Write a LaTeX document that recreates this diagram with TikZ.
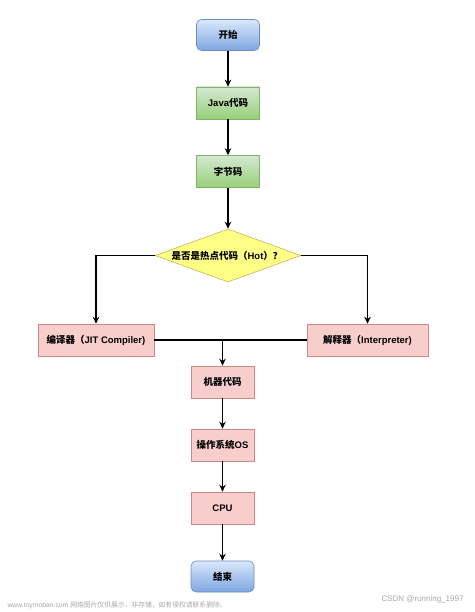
\documentclass[tikz,border=0pt]{standalone}
\usepackage{fontspec}
\setmainfont{Liberation Sans}
\newfontfamily\cjk{Noto Sans CJK SC Bold}
\newfontfamily\cjkreg{Noto Sans CJK SC}
\usetikzlibrary{shapes.geometric,arrows.meta}
\definecolor{bluetop}{HTML}{DAE8FC}
\definecolor{bluebot}{HTML}{7EA6E0}
\definecolor{blueline}{HTML}{6C8EBF}
\definecolor{greentop}{HTML}{D5E8D4}
\definecolor{greenbot}{HTML}{97D077}
\definecolor{greenline}{HTML}{82B366}
\definecolor{yellowfill}{HTML}{FFFF88}
\definecolor{yellowline}{HTML}{C8B45A}
\definecolor{pinkfill}{HTML}{F8CECC}
\definecolor{pinkline}{HTML}{B85450}
\definecolor{wm}{HTML}{A8A8A8}
\tikzset{
  every node/.style={font=\bfseries\fontsize{9.5}{11}\selectfont, text=black},
  term/.style={rectangle, rounded corners=5pt, draw=blueline, line width=0.6pt,
    top color=bluetop, bottom color=bluebot, minimum width=63pt, minimum height=31pt, inner sep=0pt},
  gbox/.style={rectangle, draw=greenline, line width=0.6pt,
    top color=greentop, bottom color=greenbot, minimum width=63pt, minimum height=32pt, inner sep=0pt},
  pbox/.style={rectangle, draw=pinkline!70, line width=0.6pt, fill=pinkfill,
    minimum height=32pt, inner sep=0pt},
  dec/.style={diamond, draw=yellowline, line width=0.6pt, fill=yellowfill,
    minimum width=146pt, minimum height=53pt, inner sep=0pt},
  conn/.style={line width=1.7pt, -{Stealth[length=7pt,width=6.5pt]}},
  plain/.style={line width=1.7pt},
  wmtext/.style={font=\fontsize{6.8}{7}\selectfont, text=wm},
}
\begin{document}
\begin{tikzpicture}[x=1pt,y=-1pt]
\useasboundingbox (0,0) rectangle (474,612);
\fill[white] (0,0) rectangle (474,612);
\node[term] (start) at (228,35) {\cjk 开始};
\node[gbox] (java) at (228,103) {Java\cjk 代码};
\node[gbox] (byte) at (228,171.5) {\cjk 字节码};
\node[dec] (hot) at (228,255.5) {};
\node (hottext) at (227,255.5) {{\cjk 是否是热点代码（}Hot{\cjk ）？}};
\node[pbox, minimum width=116pt] (comp) at (96,340) {{\cjk 编译器（}JIT Compiler)};
\node[pbox, minimum width=121pt] (interp) at (367.5,340) {{\cjk 解释器（}Interpreter)};
\node[pbox, minimum width=63pt] (mach) at (222.5,382) {\cjk 机器代码};
\node[pbox, minimum width=63pt] (os) at (222.5,445) {{\cjk 操作系统}OS};
\node[pbox, minimum width=63pt] (cpu) at (222.5,508) {CPU};
\node[term] (end) at (222.5,576.5) {\cjk 结束};
\coordinate (join) at (222.5,340);
\draw[conn] (start) -- (java);
\draw[conn] (java) -- (byte);
\draw[conn] (byte.south) -- (hot.north);
\draw[conn] (hot.west) -| (comp.north);
\draw[conn] (hot.east) -| (interp.north);
\draw[plain] (comp.east) -- (interp.west);
\draw[conn] (join) -- (mach.north);
\draw[conn] (mach) -- (os);
\draw[conn] (os) -- (cpu);
\draw[conn] (cpu) -- (end);
\node[wmtext, anchor=west] (wm1) at (4,605) {www.toymoban.com {\cjkreg 网络图片仅供展示，非存储，如有侵权请联系删除。}};
\node[wmtext, font=\fontsize{8}{9}\selectfont, anchor=east] (wm2) at (467,599) {CSDN @running\_1997};
\end{tikzpicture}
\end{document}
